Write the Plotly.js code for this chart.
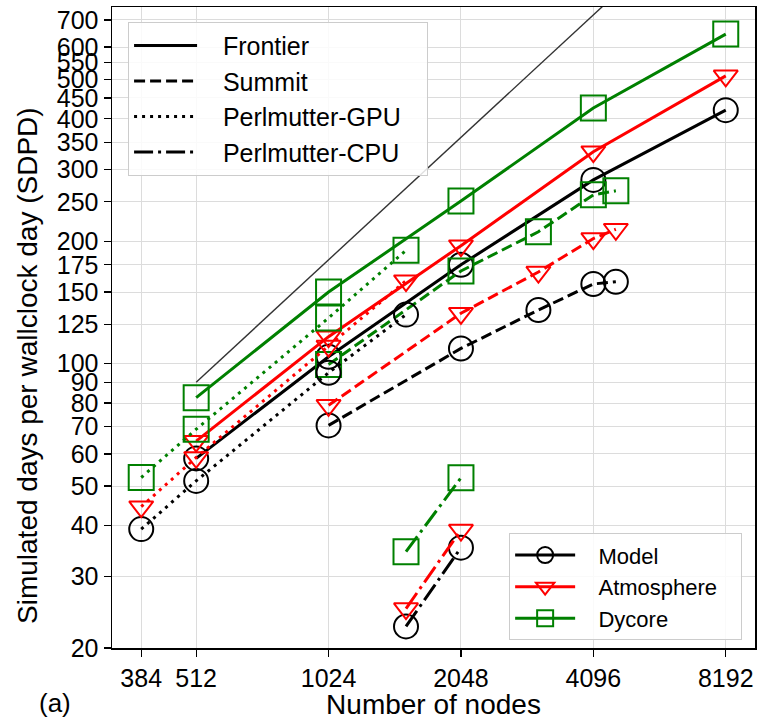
<!DOCTYPE html>
<html>
<head>
<meta charset="utf-8">
<script src="https://cdn.plot.ly/plotly-3.0.1.min.js"></script>
<style>html,body{margin:0;padding:0;background:#fff;}#chart{width:762px;height:720px;}</style>
</head>
<body>
<div id="chart"></div>
<script>
// ---- data ----
const nodesFrontier = [512, 1024, 2048, 4096, 8192];
const modelFrontier = [58.5, 104, 175, 283, 420];
const atmFrontier   = [64.5, 116.5, 195, 332, 510];
const dycFrontier   = [82.5, 150, 251, 425, 646];

const nodesSummit = [1024, 2048, 3072, 4096, 4608];
const modelSummit = [70.5, 109, 135.5, 157, 159];
const atmSummit   = [79, 133, 168, 203, 214];
const dycSummit   = [99.5, 169, 211, 260, 266];

const nodesPGPU = [384, 512, 1024, 1536];
const modelPGPU = [39.2, 51.5, 95, 132];
const atmPGPU   = [44.5, 58.8, 110.5, 160];
const dycPGPU   = [52.5, 69, 129.5, 190];

const nodesPCPU = [1536, 2048];
const modelPCPU = [22.6, 35.3];
const atmPCPU   = [25, 39];
const dycPCPU   = [34.5, 52.4];

const idealNodes = [512, 8192];
const idealSDPD  = [90, 1440];

const xTicks = [384, 512, 1024, 2048, 4096, 8192];
const yTicks = [20, 30, 40, 50, 60, 70, 80, 90, 100, 125, 150, 175, 200, 250, 300, 350, 400, 450, 500, 550, 600, 700];

const machineNames = ['Frontier', 'Summit', 'Perlmutter-GPU', 'Perlmutter-CPU'];
const componentNames = ['Model', 'Atmosphere', 'Dycore'];
const xTitle = 'Number of nodes';
const yTitle = 'Simulated days per wallclock day (SDPD)';
const panelLabel = '(a)';

// ---- styles ----
const FONT = '"Liberation Sans", Arial, sans-serif';
const colors = ['#000000', '#ff0000', '#008000'];
const symbols = ['circle-open', 'triangle-down-open', 'square-open'];
const msizes = [24, 21, 25];
const dashes = ['solid', '11px,5px', '3px,5px', '19px,5px,3px,5px'];
const LW = 3;
const NB = '\u00a0';
const lead1 = NB.repeat(3), trail1 = NB.repeat(3);
const lead2 = NB.repeat(3), trail2 = NB.repeat(3);

const machines = [
  {x: nodesFrontier, ys: [modelFrontier, atmFrontier, dycFrontier]},
  {x: nodesSummit,   ys: [modelSummit, atmSummit, dycSummit]},
  {x: nodesPGPU,     ys: [modelPGPU, atmPGPU, dycPGPU]},
  {x: nodesPCPU,     ys: [modelPCPU, atmPCPU, dycPCPU]}
];

const traces = [];
traces.push({
  x: idealNodes, y: idealSDPD, mode: 'lines', type: 'scatter',
  line: {color: '#333333', width: 1.4}, showlegend: false, hoverinfo: 'skip'
});
machines.forEach((m, mi) => {
  m.ys.forEach((ys, ci) => {
    traces.push({
      x: m.x, y: ys, type: 'scatter', mode: 'lines+markers',
      line: {color: colors[ci], width: LW, dash: dashes[mi]},
      marker: {symbol: symbols[ci], size: msizes[ci], color: colors[ci], line: {width: 2, color: colors[ci]}},
      showlegend: false
    });
  });
});
// legend 1: machines (line styles)
machineNames.forEach((name, mi) => {
  traces.push({
    x: [null], y: [null], type: 'scatter', mode: 'lines', name: lead1 + name + trail1,
    line: {color: '#000000', width: LW, dash: dashes[mi]},
    legend: 'legend', legendgroup: 'm' + mi, showlegend: true
  });
});
// legend 2: components (markers)
componentNames.forEach((name, ci) => {
  traces.push({
    x: [null], y: [null], type: 'scatter', mode: 'lines+markers', name: lead2 + name + trail2,
    line: {color: colors[ci], width: LW},
    marker: {symbol: symbols[ci], size: msizes[ci], color: colors[ci], line: {width: 2, color: colors[ci]}},
    legend: 'legend2', legendgroup: 'c' + ci, showlegend: true
  });
});

const layout = {
  width: 762, height: 720,
  margin: {l: 112, r: 7, t: 7, b: 72},
  paper_bgcolor: '#ffffff', plot_bgcolor: '#ffffff',
  font: {family: FONT, size: 25, color: '#000000'},
  showlegend: true,
  xaxis: {
    type: 'log', range: [2.5179, 3.9799],
    tickvals: xTicks, ticktext: xTicks.map(String),
    ticks: 'outside', ticklen: 7, tickwidth: 1.3, tickcolor: '#000',
    showline: true, mirror: true, linecolor: '#000', linewidth: 1.5,
    showgrid: true, gridcolor: '#dcdcdc', gridwidth: 1, zeroline: false,
    tickfont: {family: FONT, size: 25},
    title: {text: xTitle, font: {family: FONT, size: 28}, standoff: 4}
  },
  yaxis: {
    type: 'log', range: [Math.log10(20), Math.log10(753)],
    tickvals: yTicks, ticktext: yTicks.map(String),
    ticks: 'outside', ticklen: 7, tickwidth: 1.3, tickcolor: '#000',
    showline: true, mirror: true, linecolor: '#000', linewidth: 1.5,
    showgrid: true, gridcolor: '#dcdcdc', gridwidth: 1, zeroline: false,
    tickfont: {family: FONT, size: 25}
  },
  legend: {
    x: 0.025, y: 0.977, xanchor: 'left', yanchor: 'top',
    bgcolor: 'rgba(255,255,255,0.85)', bordercolor: '#cccccc', borderwidth: 1,
    font: {family: FONT, size: 25}, itemwidth: 63, tracegroupgap: 0, traceorder: 'grouped'
  },
  legend2: {
    x: 0.98, y: 0.179, xanchor: 'right', yanchor: 'top',
    bgcolor: 'rgba(255,255,255,0.85)', bordercolor: '#cccccc', borderwidth: 1,
    font: {family: FONT, size: 22}, itemwidth: 60, tracegroupgap: 0, traceorder: 'grouped'
  },
  annotations: [
    {
      text: yTitle, xref: 'paper', yref: 'paper', x: -0.1306, y: 0.44,
      xanchor: 'center', yanchor: 'middle', textangle: -90, showarrow: false,
      font: {family: FONT, size: 28}
    },
    {
      text: panelLabel, xref: 'paper', yref: 'paper', x: -0.089, y: -0.0858,
      xanchor: 'center', yanchor: 'middle', showarrow: false,
      font: {family: FONT, size: 26}
    }
  ]
};

Plotly.newPlot('chart', traces, layout, {displayModeBar: false, staticPlot: true});
</script>
</body>
</html>
